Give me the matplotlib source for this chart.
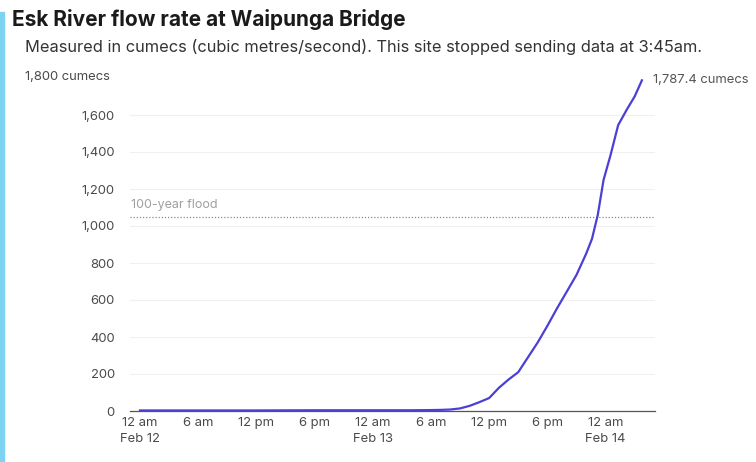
import matplotlib.pyplot as plt
from matplotlib.patches import Rectangle

# hours since 12 am Feb 12, flow in cumecs
hours = [0, 6, 12, 18, 24, 28, 30, 31, 32, 33, 34, 35, 36, 37, 38, 39, 40,
         41, 42, 43, 44, 45, 46, 46.6, 47.2, 47.8, 48.5, 49.3, 50.2, 51, 51.75]
flow = [3, 3, 3, 4, 4, 4, 5, 6, 8, 14, 28, 48, 70, 125, 170, 210, 290,
        370, 460, 555, 645, 735, 850, 930, 1060, 1250, 1380, 1545, 1630, 1700, 1787.4]

tick_hours = [0, 6, 12, 18, 24, 30, 36, 42, 48]
tick_labels = ["12 am\nFeb 12", "6 am", "12 pm", "6 pm", "12 am\nFeb 13",
               "6 am", "12 pm", "6 pm", "12 am\nFeb 14"]
y_ticks = [0, 200, 400, 600, 800, 1000, 1200, 1400, 1600]
flood_level = 1050

plt.rcParams['font.family'] = ['Inter', 'DejaVu Sans']

fig = plt.figure(figsize=(7.56, 4.62), dpi=100)
W, H = 756, 462

# light blue side bar
fig.patches.append(Rectangle((0, 0), 4 / W, 1 - 12 / H, transform=fig.transFigure,
                             color="#7dd3f2", zorder=0))

fig.text(12 / W, 1 - 19 / H, "Esk River flow rate at Waipunga Bridge",
         fontsize=15, fontweight="bold", color="#1a1a1a", va="center")
fig.text(25 / W, 1 - 47 / H,
         "Measured in cumecs (cubic metres/second). This site stopped sending data at 3:45am.",
         fontsize=11.8, color="#333333", va="center")

ax = fig.add_axes([130 / W, 51 / H, 525 / W, 333 / H])
ax.plot(hours, flow, color="#4b3fd6", lw=1.6, zorder=3)

ax.set_xlim(-1.03, 53.1)
ax.set_ylim(0, 1800)

ax.axhline(flood_level, color="#8a8a8a", lw=0.9, ls=(0, (1, 1.5)), zorder=2)
ax.text(-0.9, flood_level + 30, "100-year flood", fontsize=9, color="#a0a0a0",
        va="bottom", ha="left")

ax.set_yticks(y_ticks)
ax.set_yticklabels([f"{v:,}" for v in y_ticks])
ax.set_xticks(tick_hours)
ax.set_xticklabels(tick_labels)
ax.tick_params(axis="both", length=0, labelsize=9.4, labelcolor="#4a4a4a")
ax.tick_params(axis="y", pad=11)
ax.tick_params(axis="x", pad=4)
for lab in ax.get_xticklabels():
    lab.set_linespacing(1.45)

ax.grid(axis="y", color="#f0f0f0", lw=0.8)
ax.set_axisbelow(True)
for s in ["top", "right", "left"]:
    ax.spines[s].set_visible(False)
ax.spines["bottom"].set_color("#555555")
ax.spines["bottom"].set_linewidth(0.9)

fig.text(25 / W, 1 - 77 / H, "1,800 cumecs", fontsize=9.4, color="#4a4a4a",
         ha="left", va="center")

ax.annotate(f"{flow[-1]:,} cumecs", xy=(hours[-1], flow[-1]), xytext=(8, 0),
            textcoords="offset points", fontsize=9.4, color="#555555",
            va="center", ha="left")

fig.savefig("out.png", dpi=100)
